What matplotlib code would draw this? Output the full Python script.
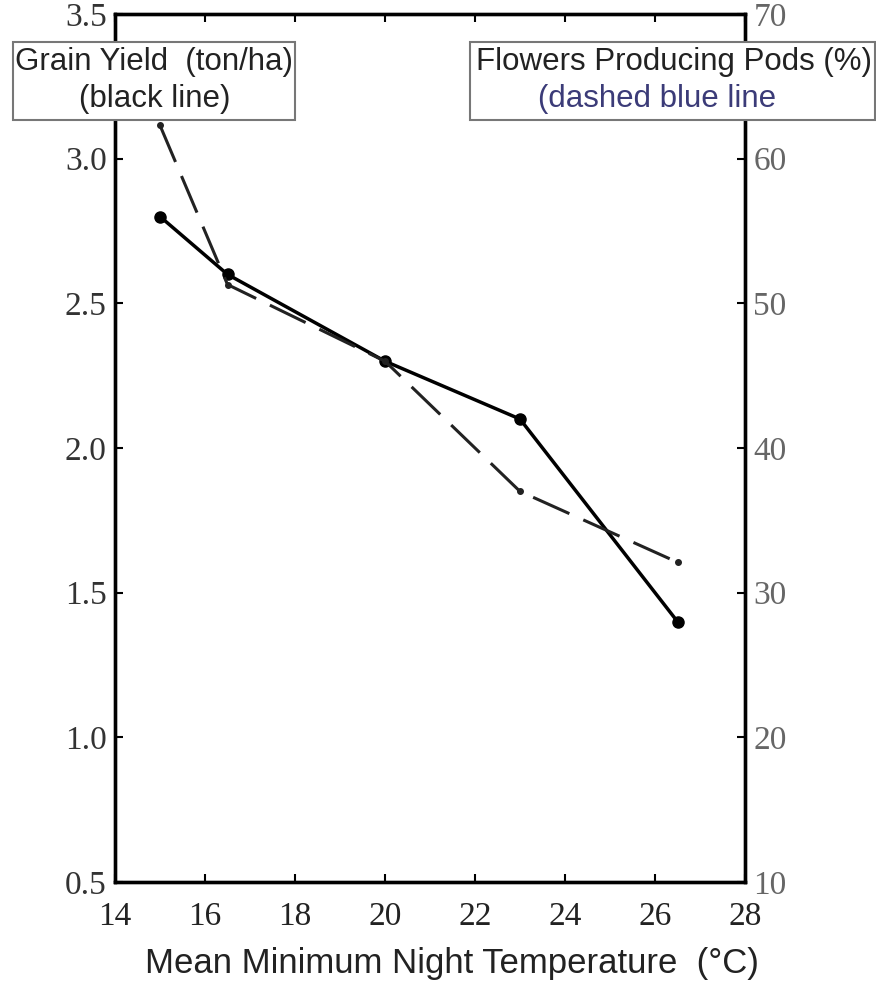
import matplotlib
matplotlib.use('Agg')
import matplotlib.pyplot as plt
from matplotlib.patches import Rectangle

# data
temps = [15, 16.5, 20, 23, 26.5]
grain_yield = [2.8, 2.6, 2.3, 2.1, 1.4]
pods_pct = [62.3, 51.3, 46.0, 37.0, 32.1]

x_ticks = [14, 16, 18, 20, 22, 24, 26, 28]
y_left_ticks = [0.5, 1.0, 1.5, 2.0, 2.5, 3.0, 3.5]
y_right_ticks = [10, 20, 30, 40, 50, 60, 70]

W, H = 876, 993

def fx(px):
    return px / W

def fy(py):
    return 1 - py / H

serif = 'Liberation Serif'
sans = 'Liberation Sans'

fig = plt.figure(figsize=(W / 100, H / 100), dpi=100)
ax = fig.add_axes([fx(115), fy(882), fx(745) - fx(115), fy(14) - fy(882)])
ax2 = ax.twinx()

ax.plot(temps, grain_yield, color='black', lw=2.5, marker='o', ms=8, zorder=3)
ax2.plot(temps, pods_pct, color='#222222', lw=2.2, linestyle=(0, (13, 5)),
         marker='o', ms=4, zorder=2)

ax.set_xlim(14, 28)
ax.set_ylim(0.5, 3.5)
ax2.set_ylim(10, 70)

ax.set_xticks(x_ticks)
ax.set_xticklabels([str(t) for t in x_ticks], fontfamily=serif, fontsize=24, color='#222222')
ax.set_yticks(y_left_ticks)
ax.set_yticklabels(['%.1f' % v for v in y_left_ticks], fontfamily=serif, fontsize=24, color='#333333')
ax2.set_yticks(y_right_ticks)
ax2.set_yticklabels([str(v) for v in y_right_ticks], fontfamily=serif, fontsize=24, color='#666666')

ax.tick_params(axis='x', direction='in', length=6, width=1.5, top=True, pad=14)
ax.tick_params(axis='y', direction='in', length=6, width=1.5, pad=6)
ax2.tick_params(axis='y', direction='in', length=6, width=1.5, pad=6)

for a in (ax, ax2):
    for s in a.spines.values():
        s.set_linewidth(2.4)
        s.set_color('black')

fig.text(fx(452), fy(963), 'Mean Minimum Night Temperature  (\u00b0C)',
         fontfamily=sans, fontsize=25, color='#222222', ha='center', va='center')

# label boxes drawn over the axes
boxes = [
    (13, 295, 'Grain Yield  (ton/ha)', '(black line)', 154, 155, '#222222'),
    (470, 875, 'Flowers Producing Pods (%)', '(dashed blue line', 674, 657, '#3b3b78'),
]
for x0, x1, line1, line2, c1, c2, col2 in boxes:
    rect = Rectangle((fx(x0), fy(120)), fx(x1) - fx(x0), fy(42) - fy(120),
                     transform=fig.transFigure, facecolor='white',
                     edgecolor='#777777', lw=1.5, zorder=10)
    fig.patches.append(rect)
    fig.text(fx(c1), fy(62), line1, fontfamily=sans, fontsize=22.5,
             color='#222222', ha='center', va='center', zorder=11)
    fig.text(fx(c2), fy(99), line2, fontfamily=sans, fontsize=22.5,
             color=col2, ha='center', va='center', zorder=11)

fig.savefig('out.png', dpi=100)
